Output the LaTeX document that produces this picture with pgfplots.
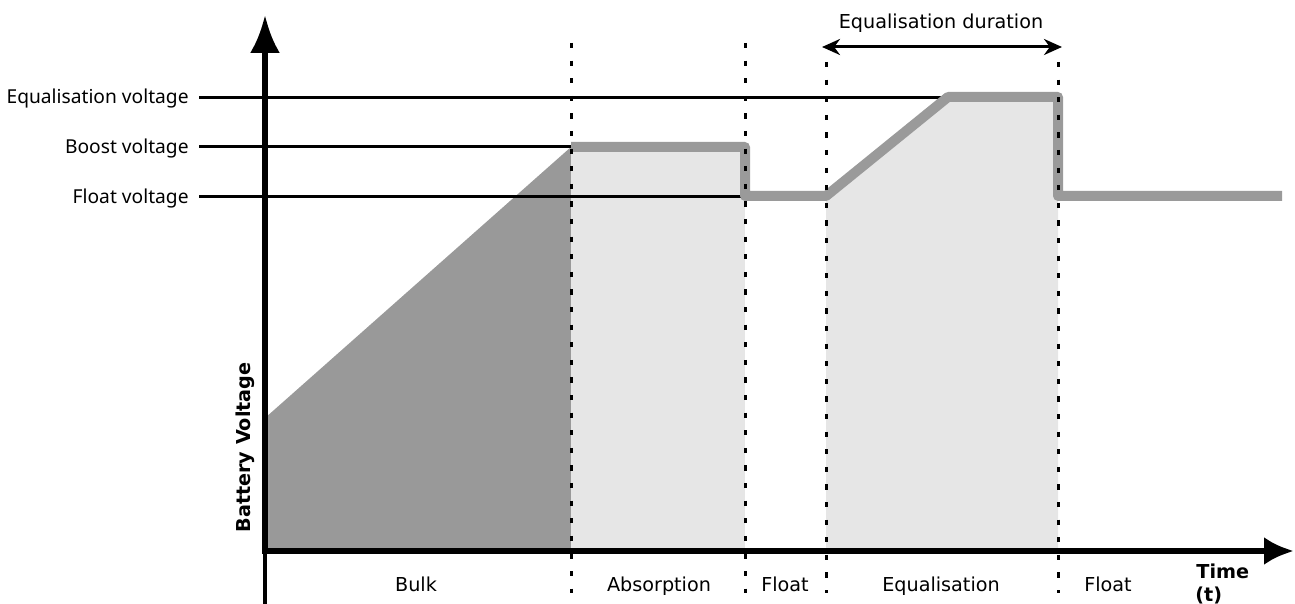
\documentclass[border=0pt]{standalone}
\usepackage{fontspec}
\setmainfont{DejaVu Sans}
\newfontfamily\lblfont{Noto Sans}
\usepackage{pgfplots}
\pgfplotsset{compat=1.18}
\usetikzlibrary{arrows.meta}
\definecolor{bulkgray}{HTML}{999999}
\definecolor{phasegray}{HTML}{E6E6E6}
\definecolor{curvegray}{HTML}{9A9A9A}
\tikzset{
  level/.style={black,line width=1.5pt},
  sep/.style={black,line width=1.5pt,dash pattern=on 2.6pt off 6.2pt},
  lbl/.style={font=\fontsize{9.6}{11}\selectfont,inner sep=0pt}
}
\begin{document}
\begin{tikzpicture}
\begin{axis}[
  name=main,
  width=647.5pt,height=302pt,scale only axis,
  xmin=0,xmax=1295,ymin=0,ymax=604,y dir=reverse,
  hide axis,clip=false
]
% shaded phases
\addplot[fill=bulkgray,draw=none] coordinates {(265,551) (265,418) (571,147) (571,551)} -- cycle;
\addplot[fill=phasegray,draw=none] coordinates {(571,147) (745,147) (745,551) (571,551)} -- cycle;
\addplot[fill=phasegray,draw=none] coordinates {(826,196) (948,97) (1058,97) (1058,551) (826,551)} -- cycle;
% voltage levels
\addplot[level] coordinates {(199,97.5) (945,97.5)};
\addplot[level] coordinates {(199,147) (571,147)};
\addplot[level] coordinates {(199,196.5) (745,196.5)};
% charge profile
\addplot[curvegray,line width=5pt,line join=round] coordinates {
 (571,147) (745,147) (745,196) (826,196) (948,97) (1058,97) (1058,196) (1282,196)};
% phase separators
\addplot[sep] coordinates {(571,43) (571,593)};
\addplot[sep] coordinates {(745,43) (745,593)};
\addplot[sep] coordinates {(826,62) (826,593)};
\addplot[sep] coordinates {(1058,62) (1058,593)};
% equalisation duration
\addplot[black,line width=1.5pt,{Stealth[length=9pt,width=8pt]}-{Stealth[length=9pt,width=8pt]}] coordinates {(822,47) (1062,47)};
% axes
\addplot[black,line width=1.75pt] coordinates {(265,551) (265,604)};
\addplot[black,line width=3pt,-{Latex[length=19pt,width=15pt]}] coordinates {(265,551) (265,15)};
\addplot[black,line width=3pt,-{Latex[length=15pt,width=14pt]}] coordinates {(262,551) (1294,551)};
% text
\node[lbl,font=\lblfont\fontsize{9.6}{11}\selectfont,anchor=base east] at (axis cs:189,104) {Equalisation voltage};
\node[lbl,font=\lblfont\fontsize{9.6}{11}\selectfont,anchor=base east] at (axis cs:189,153.7) {Boost voltage};
\node[lbl,font=\lblfont\fontsize{9.6}{11}\selectfont,anchor=base east] at (axis cs:189,203.3) {Float voltage};
\node[lbl,anchor=base] at (axis cs:941,28.5) {Equalisation duration};
\node[lbl,anchor=base] at (axis cs:416,591.5) {Bulk};
\node[lbl,anchor=base] at (axis cs:659,591.5) {Absorption};
\node[lbl,anchor=base] at (axis cs:785,591.5) {Float};
\node[lbl,anchor=base] at (axis cs:941,591.5) {Equalisation};
\node[lbl,anchor=base] at (axis cs:1108,591.5) {Float};
\node[lbl,anchor=base,rotate=90,font=\bfseries\fontsize{9.6}{11}\selectfont] at (axis cs:250,447.5) {Battery Voltage};
\node[lbl,anchor=base west,font=\bfseries\fontsize{9.6}{11}\selectfont] at (axis cs:1196,578.3) {Time};
\node[lbl,anchor=base west,font=\bfseries\fontsize{9.6}{11}\selectfont] at (axis cs:1195,601) {(t)};
\end{axis}
\pgfresetboundingbox
\path (main.south west) rectangle (main.north east);
\end{tikzpicture}
\end{document}
